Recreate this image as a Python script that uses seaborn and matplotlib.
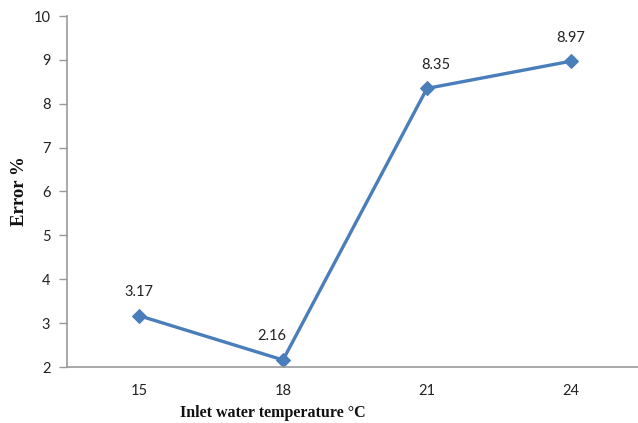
import matplotlib
matplotlib.use("Agg")
import matplotlib.pyplot as plt
import seaborn as sns
import pandas as pd
import numpy as np

categories = ["15", "18", "21", "24"]
errors = [3.17, 2.16, 8.35, 8.97]
label_texts = ["3.17", "2.16", "8.35", "8.97"]
yticks = [2, 3, 4, 5, 6, 7, 8, 9, 10]

sns.set_theme(style="white")
plt.rcParams['font.family'] = ['Lato', 'DejaVu Sans']

df = pd.DataFrame({"temp": categories, "err": errors})

fig = plt.figure(figsize=(6.38, 4.23), dpi=100)
ax = fig.add_axes([67/638, 1 - 367/423, 576/638, (367-16)/423])

color = "#4a7ebb"
sns.lineplot(data=df, x=np.arange(len(categories)), y="err", ax=ax, color=color,
             linewidth=2.4, marker="D", markersize=7, markeredgecolor=color)

offsets = [(0, 12), (-8, 12), (6, 12), (0, 12)]
for i, (v, t) in enumerate(zip(errors, label_texts)):
    ax.annotate(t, (i, v), xytext=offsets[i], textcoords="offset points",
                ha="center", va="bottom", fontsize=10.5, color="#222222")

ax.set_xlim(-0.5, len(categories) - 0.5)
ax.set_ylim(2, 10)
ax.set_yticks(yticks)
ax.set_xticks(np.arange(len(categories)))
ax.set_xticklabels(categories)
ax.tick_params(axis="y", which="major", length=6, width=1, color="#9a9a9a",
               labelsize=10.5, labelcolor="#222222", pad=6, left=True)
ax.tick_params(axis="x", length=0, labelsize=10.5, labelcolor="#222222", pad=12)

for s in ["top", "right"]:
    ax.spines[s].set_visible(False)
for s in ["left", "bottom"]:
    ax.spines[s].set_color("#9a9a9a")
    ax.spines[s].set_linewidth(1.2)

ax.set_xlabel("Inlet water temperature °C", fontsize=11.5, fontweight="bold",
              family=["Liberation Serif", "DejaVu Serif"], color="#111111")
ax.set_ylabel("Error %", fontsize=13.5, fontweight="bold",
              family=["Liberation Serif", "DejaVu Serif"], color="#111111")
ax.xaxis.set_label_coords((273-67)/576, -(405-367)/351)
ax.yaxis.set_label_coords(-(67-28)/576, 0.5)

fig.savefig("out.png", dpi=100)
